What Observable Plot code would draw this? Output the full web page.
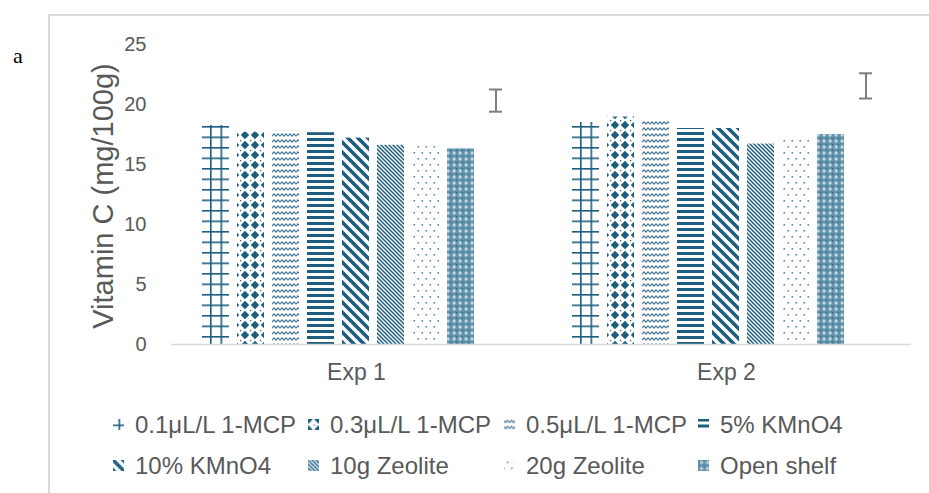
<!DOCTYPE html>
<html>
<head>
<meta charset="utf-8">
<script src="https://cdn.jsdelivr.net/npm/d3@7"></script>
<script src="https://cdn.jsdelivr.net/npm/@observablehq/plot@0.6"></script>
<style>
  html, body { margin: 0; padding: 0; background: #fff; }
  body { width: 929px; height: 493px; position: relative; overflow: hidden; font-family: "Liberation Sans", Arial, sans-serif; }
  #frame { position: absolute; left: 48px; top: 14px; width: 900px; height: 500px; border-top: 2px solid #d9d9d9; border-left: 2px solid #d9d9d9; }
  #tag { position: absolute; left: 13px; top: 43px; font-family: "Liberation Serif", "Times New Roman", serif; font-size: 22px; color: #000; }
  #chart { position: absolute; left: 0; top: 0; }
  #ylabel { position: absolute; left: 103px; top: 196px; transform: translate(-50%, -50%) rotate(-90deg); font-size: 29px; color: #595959; white-space: nowrap; }
  #legend { position: absolute; left: 113px; top: 404px; display: grid; grid-template-columns: 195px 196px 194px auto; grid-auto-rows: 41px; color: #595959; font-size: 24px; }
  .item { display: flex; align-items: center; white-space: nowrap; }
  .item svg { margin-right: 11px; flex: none; }
</style>
</head>
<body>
<svg width="0" height="0" style="position:absolute">
  <defs id="defs"></defs>
</svg>
<div id="frame"></div>
<div id="tag">a</div>
<div id="chart"></div>
<div id="ylabel"></div>
<div id="legend"></div>
<script>
const experiments = ["Exp 1", "Exp 2"];
const treatments = ["0.1μL/L 1-MCP", "0.3μL/L 1-MCP", "0.5μL/L 1-MCP", "5% KMnO4", "10% KMnO4", "10g Zeolite", "20g Zeolite", "Open shelf"];
const exp1Values = [18.25, 17.7, 17.8, 17.65, 17.2, 16.6, 16.8, 16.3];
const exp2Values = [18.5, 18.95, 18.75, 18.0, 18.0, 16.7, 17.3, 17.5];
const errorLow = [19.4, 20.5];
const errorHigh = [21.25, 22.6];
const yTicks = [0, 5, 10, 15, 20, 25];
const yLabel = "Vitamin C (mg/100g)";
const errorSlot = "LSD";

const C = "#1d5e80";
const patterns = [
  `<pattern id="p0" patternUnits="userSpaceOnUse" width="10.5" height="10.5"><rect width="10.5" height="10.5" fill="#fff"/><rect x="0" y="0" width="1.6" height="10.5" fill="${C}"/><rect x="0" y="0" width="10.5" height="1.6" fill="${C}"/></pattern>`,
  `<pattern id="p1" patternUnits="userSpaceOnUse" width="10" height="10"><rect width="10" height="10" fill="#fff"/><polygon points="5,0.8 9.2,5 5,9.2 0.8,5" fill="${C}"/><rect x="0" y="0" width="1.2" height="1.2" fill="${C}"/></pattern>`,
  `<pattern id="p2" patternUnits="userSpaceOnUse" width="8" height="6"><rect width="8" height="6" fill="#fff"/><path d="M0,4.2 L2,1.8 L4,4.2 L6,1.8 L8,4.2" fill="none" stroke="${C}" stroke-width="1.1" stroke-opacity="0.85"/></pattern>`,
  `<pattern id="p3" patternUnits="userSpaceOnUse" width="6" height="6"><rect width="6" height="6" fill="#fff"/><rect x="0" y="0" width="6" height="3" fill="${C}"/></pattern>`,
  `<pattern id="p4" patternUnits="userSpaceOnUse" width="10" height="10"><rect width="10" height="10" fill="#fff"/><path d="M-2,-2 L12,12 M-7,3 L7,17 M3,-7 L17,7" stroke="${C}" stroke-width="3.6"/></pattern>`,
  `<pattern id="p5" patternUnits="userSpaceOnUse" width="4" height="4"><rect width="4" height="4" fill="#fff"/><path d="M-1,-1 L5,5 M-1,3 L1,5 M3,-1 L5,1" stroke="${C}" stroke-width="1.5"/></pattern>`,
  `<pattern id="p6" patternUnits="userSpaceOnUse" width="8" height="12"><rect width="8" height="12" fill="#fff"/><rect x="1.5" y="2" width="1.6" height="1.6" fill="${C}" fill-opacity="0.75"/><rect x="5.5" y="8" width="1.6" height="1.6" fill="${C}" fill-opacity="0.75"/></pattern>`,
  `<pattern id="p7" patternUnits="userSpaceOnUse" width="6" height="6"><rect width="6" height="6" fill="#5f91ab"/><rect x="0" y="0" width="1" height="1" fill="${C}"/><rect x="2" y="2" width="1" height="1" fill="${C}"/><rect x="3.5" y="1" width="1" height="4" fill="#fff" fill-opacity="0.75"/><rect x="2" y="2.5" width="4" height="1" fill="#fff" fill-opacity="0.75"/></pattern>`
];
document.getElementById("defs").innerHTML = patterns.join("");

const fills = treatments.map((t, i) => `url(#p${i})`);

const bars = [];
experiments.forEach((e, ei) => {
  const vals = ei === 0 ? exp1Values : exp2Values;
  treatments.forEach((t, i) => bars.push({exp: e, treatment: t, value: vals[i], fill: fills[i]}));
});
const errs = experiments.map((e, i) => ({exp: e, treatment: errorSlot, lo: errorLow[i], hi: errorHigh[i]}));

const chart = Plot.plot({
  width: 929,
  height: 400,
  marginLeft: 171,
  marginRight: 18,
  marginTop: 44,
  marginBottom: 56,
  style: {fontFamily: "'Liberation Sans', Arial, sans-serif", color: "#595959", background: "transparent"},
  fx: {domain: experiments, padding: 0, label: null},
  x: {domain: [...treatments, errorSlot], axis: null, paddingInner: 0.217, paddingOuter: 0.878},
  y: {domain: [0, 25], label: null},
  color: {type: "identity"},
  marks: [
    Plot.axisY({ticks: yTicks, tickSize: 0, tickPadding: 25, fontSize: 20, label: null}),
    Plot.axisFx({anchor: "bottom", tickSize: 0, tickPadding: 19, fontSize: 23, label: null}),
    Plot.barY(bars, {fx: "exp", x: "treatment", y: "value", fill: "fill"}),
    Plot.ruleY([0], {stroke: "#d9d9d9", strokeWidth: 1.5}),
    Plot.ruleX(errs, {fx: "exp", x: "treatment", y1: "lo", y2: "hi", stroke: "#7f7f7f", strokeWidth: 2}),
    Plot.tickY(errs, {fx: "exp", x: "treatment", y: "lo", stroke: "#7f7f7f", strokeWidth: 2, insetLeft: 7, insetRight: 7}),
    Plot.tickY(errs, {fx: "exp", x: "treatment", y: "hi", stroke: "#7f7f7f", strokeWidth: 2, insetLeft: 7, insetRight: 7})
  ]
});
document.getElementById("chart").appendChild(chart);
document.getElementById("ylabel").textContent = yLabel;

const legend = document.getElementById("legend");
treatments.forEach((t, i) => {
  const item = document.createElement("div");
  item.className = "item";
  item.innerHTML = `<svg width="11" height="11" viewBox="-5.5 -5.5 11 11"><rect x="-5.5" y="-5.5" width="11" height="11" fill="${fills[i]}"/></svg><span>${t}</span>`;
  legend.appendChild(item);
});
</script>
</body>
</html>
